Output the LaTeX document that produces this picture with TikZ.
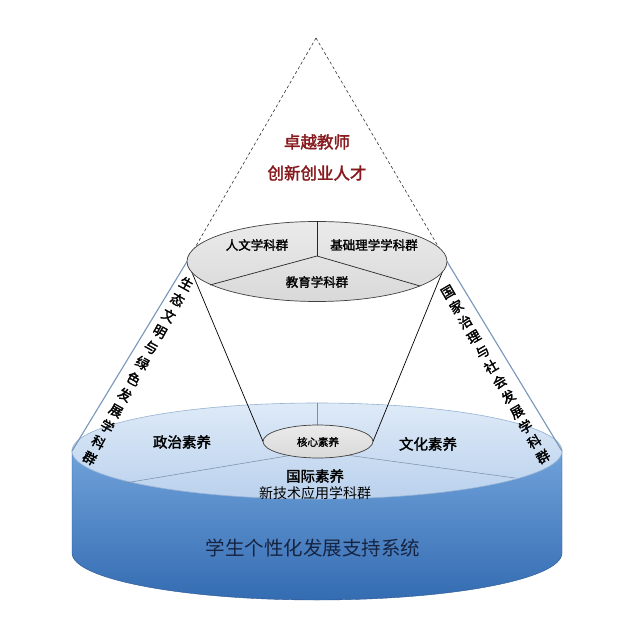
\documentclass[tikz,border=0pt]{standalone}
\usepackage{fontspec}
\newfontfamily\cjk[AutoFakeBold=2]{Noto Sans CJK SC}
\usetikzlibrary{calc}
\definecolor{tred}{RGB}{135,26,30}
\definecolor{navy}{RGB}{22,36,66}
\definecolor{bodytop}{RGB}{112,162,218}
\definecolor{bodybot}{RGB}{52,108,178}
\definecolor{facetop}{RGB}{222,234,247}
\definecolor{facebot}{RGB}{186,209,237}
\definecolor{faceedge}{RGB}{150,178,212}
\definecolor{coneline}{RGB}{120,150,185}
\tikzset{
  lbl/.style={font=\cjk, inner sep=0pt},
  lblb/.style={font=\cjk\bfseries, inner sep=0pt},
  grayface/.style={draw=black!75, line width=0.7pt, top color=black!8, bottom color=black!15},
}
\begin{document}
\begin{tikzpicture}[x=1pt,y=1pt]
\useasboundingbox[fill=white] (0,0) rectangle (639,619);
% key points
\coordinate (apex) at (316,581);
\coordinate (cl) at (72,168);
\coordinate (cr) at (562,168);
\coordinate (cc) at (317,168);
\coordinate (tl) at (187,357.5);
\coordinate (tr) at (447,357.5);
\coordinate (tc) at (317,363);
\coordinate (ttop) at (317,397.5);
\coordinate (tsl) at (210,334);
\coordinate (tsr) at (420,333);
\coordinate (fl) at (188,356);
\coordinate (fr) at (446,356);
\coordinate (kl) at (263,177.5);
\coordinate (kr) at (373,177.5);
\coordinate (ctop) at (317,216);
\coordinate (bsl) at (125,136);
\coordinate (bsr) at (515,141);
% cylinder body
\shade[top color=bodytop, bottom color=bodybot, draw=bodybot!80!black, line width=0.4pt]
  (cl) -- (72,66) arc[start angle=180, end angle=360, x radius=245, y radius=47] -- (cr) -- cycle;
% cylinder top face
\shade[top color=facetop, bottom color=facebot, draw=faceedge, line width=0.6pt]
  (cc) ellipse[x radius=245, y radius=48];
\draw[faceedge!80!black, line width=0.5pt] (cc) -- (bsl);
\draw[faceedge!80!black, line width=0.5pt] (cc) -- (bsr);
\draw[faceedge!80!black, line width=0.5pt] (cc) -- (ctop);
% cone outline
\draw[black!80, line width=0.6pt, dash pattern=on 3pt off 2.5pt] (apex) -- (tl);
\draw[black!80, line width=0.6pt, dash pattern=on 3pt off 2.5pt] (apex) -- (tr);
\draw[coneline, line width=1.1pt] (tl) -- (cl);
\draw[coneline, line width=1.1pt] (tr) -- (cr);
% inner frustum
\draw[black, line width=0.7pt] (fl) -- (kl);
\draw[black, line width=0.7pt] (fr) -- (kr);
% top ellipse
\shade[grayface] (317,357.5) ellipse[x radius=130, y radius=40];
\draw[black!85, line width=0.7pt] (tc) -- (ttop);
\draw[black!85, line width=0.7pt] (tc) -- (tsl);
\draw[black!85, line width=0.7pt] (tc) -- (tsr);
% core ellipse
\shade[grayface] (318,177.5) ellipse[x radius=55, y radius=16.5];
% texts
\node[lblb, text=tred, font=\cjk\bfseries\fontsize{16.5}{18}\selectfont] (t1) at (317,477) {卓越教师};
\node[lblb, text=tred, font=\cjk\bfseries\fontsize{16.5}{18}\selectfont] (t2) at (317,446) {创新创业人才};
\node[lblb, font=\cjk\bfseries\fontsize{12.5}{14}\selectfont] (s1) at (257,374) {人文学科群};
\node[lblb, font=\cjk\bfseries\fontsize{12.5}{14}\selectfont] (s2) at (374,374) {基础理学学科群};
\node[lblb, font=\cjk\bfseries\fontsize{12.5}{14}\selectfont] (s3) at (317,337) {教育学科群};
\node[lblb, font=\cjk\bfseries\fontsize{10.5}{12}\selectfont] (core) at (318,177) {核心素养};
\node[lblb, font=\cjk\bfseries\fontsize{14.5}{16}\selectfont] (p1) at (182,177) {政治素养};
\node[lblb, font=\cjk\bfseries\fontsize{14.5}{16}\selectfont] (p2) at (428,175) {文化素养};
\node[lblb, font=\cjk\bfseries\fontsize{14.5}{16}\selectfont] (p3) at (315,143) {国际素养};
\node[lbl, font=\cjk\fontsize{14}{16}\selectfont] (p4) at (315,126) {新技术应用学科群};
\node[lbl, text=navy, font=\cjk\fontsize{19.5}{22}\selectfont] (sys) at (313,71) {学生个性化发展支持系统};
% side labels (vertical text, tilted along the cone edges)
\node[lblb, rotate=-29, align=center, font=\cjk\bfseries\fontsize{13.5}{18.1}\selectfont] (left)
  at ($(186,334)!0.5!(90,162)$) {生\\态\\文\\明\\与\\绿\\色\\发\\展\\学\\科\\群};
\node[lblb, rotate=30, align=center, font=\cjk\bfseries\fontsize{13.5}{17.3}\selectfont] (right)
  at ($(448,327)!0.5!(543,162)$) {国\\家\\治\\理\\与\\社\\会\\发\\展\\学\\科\\群};
\end{tikzpicture}
\end{document}
